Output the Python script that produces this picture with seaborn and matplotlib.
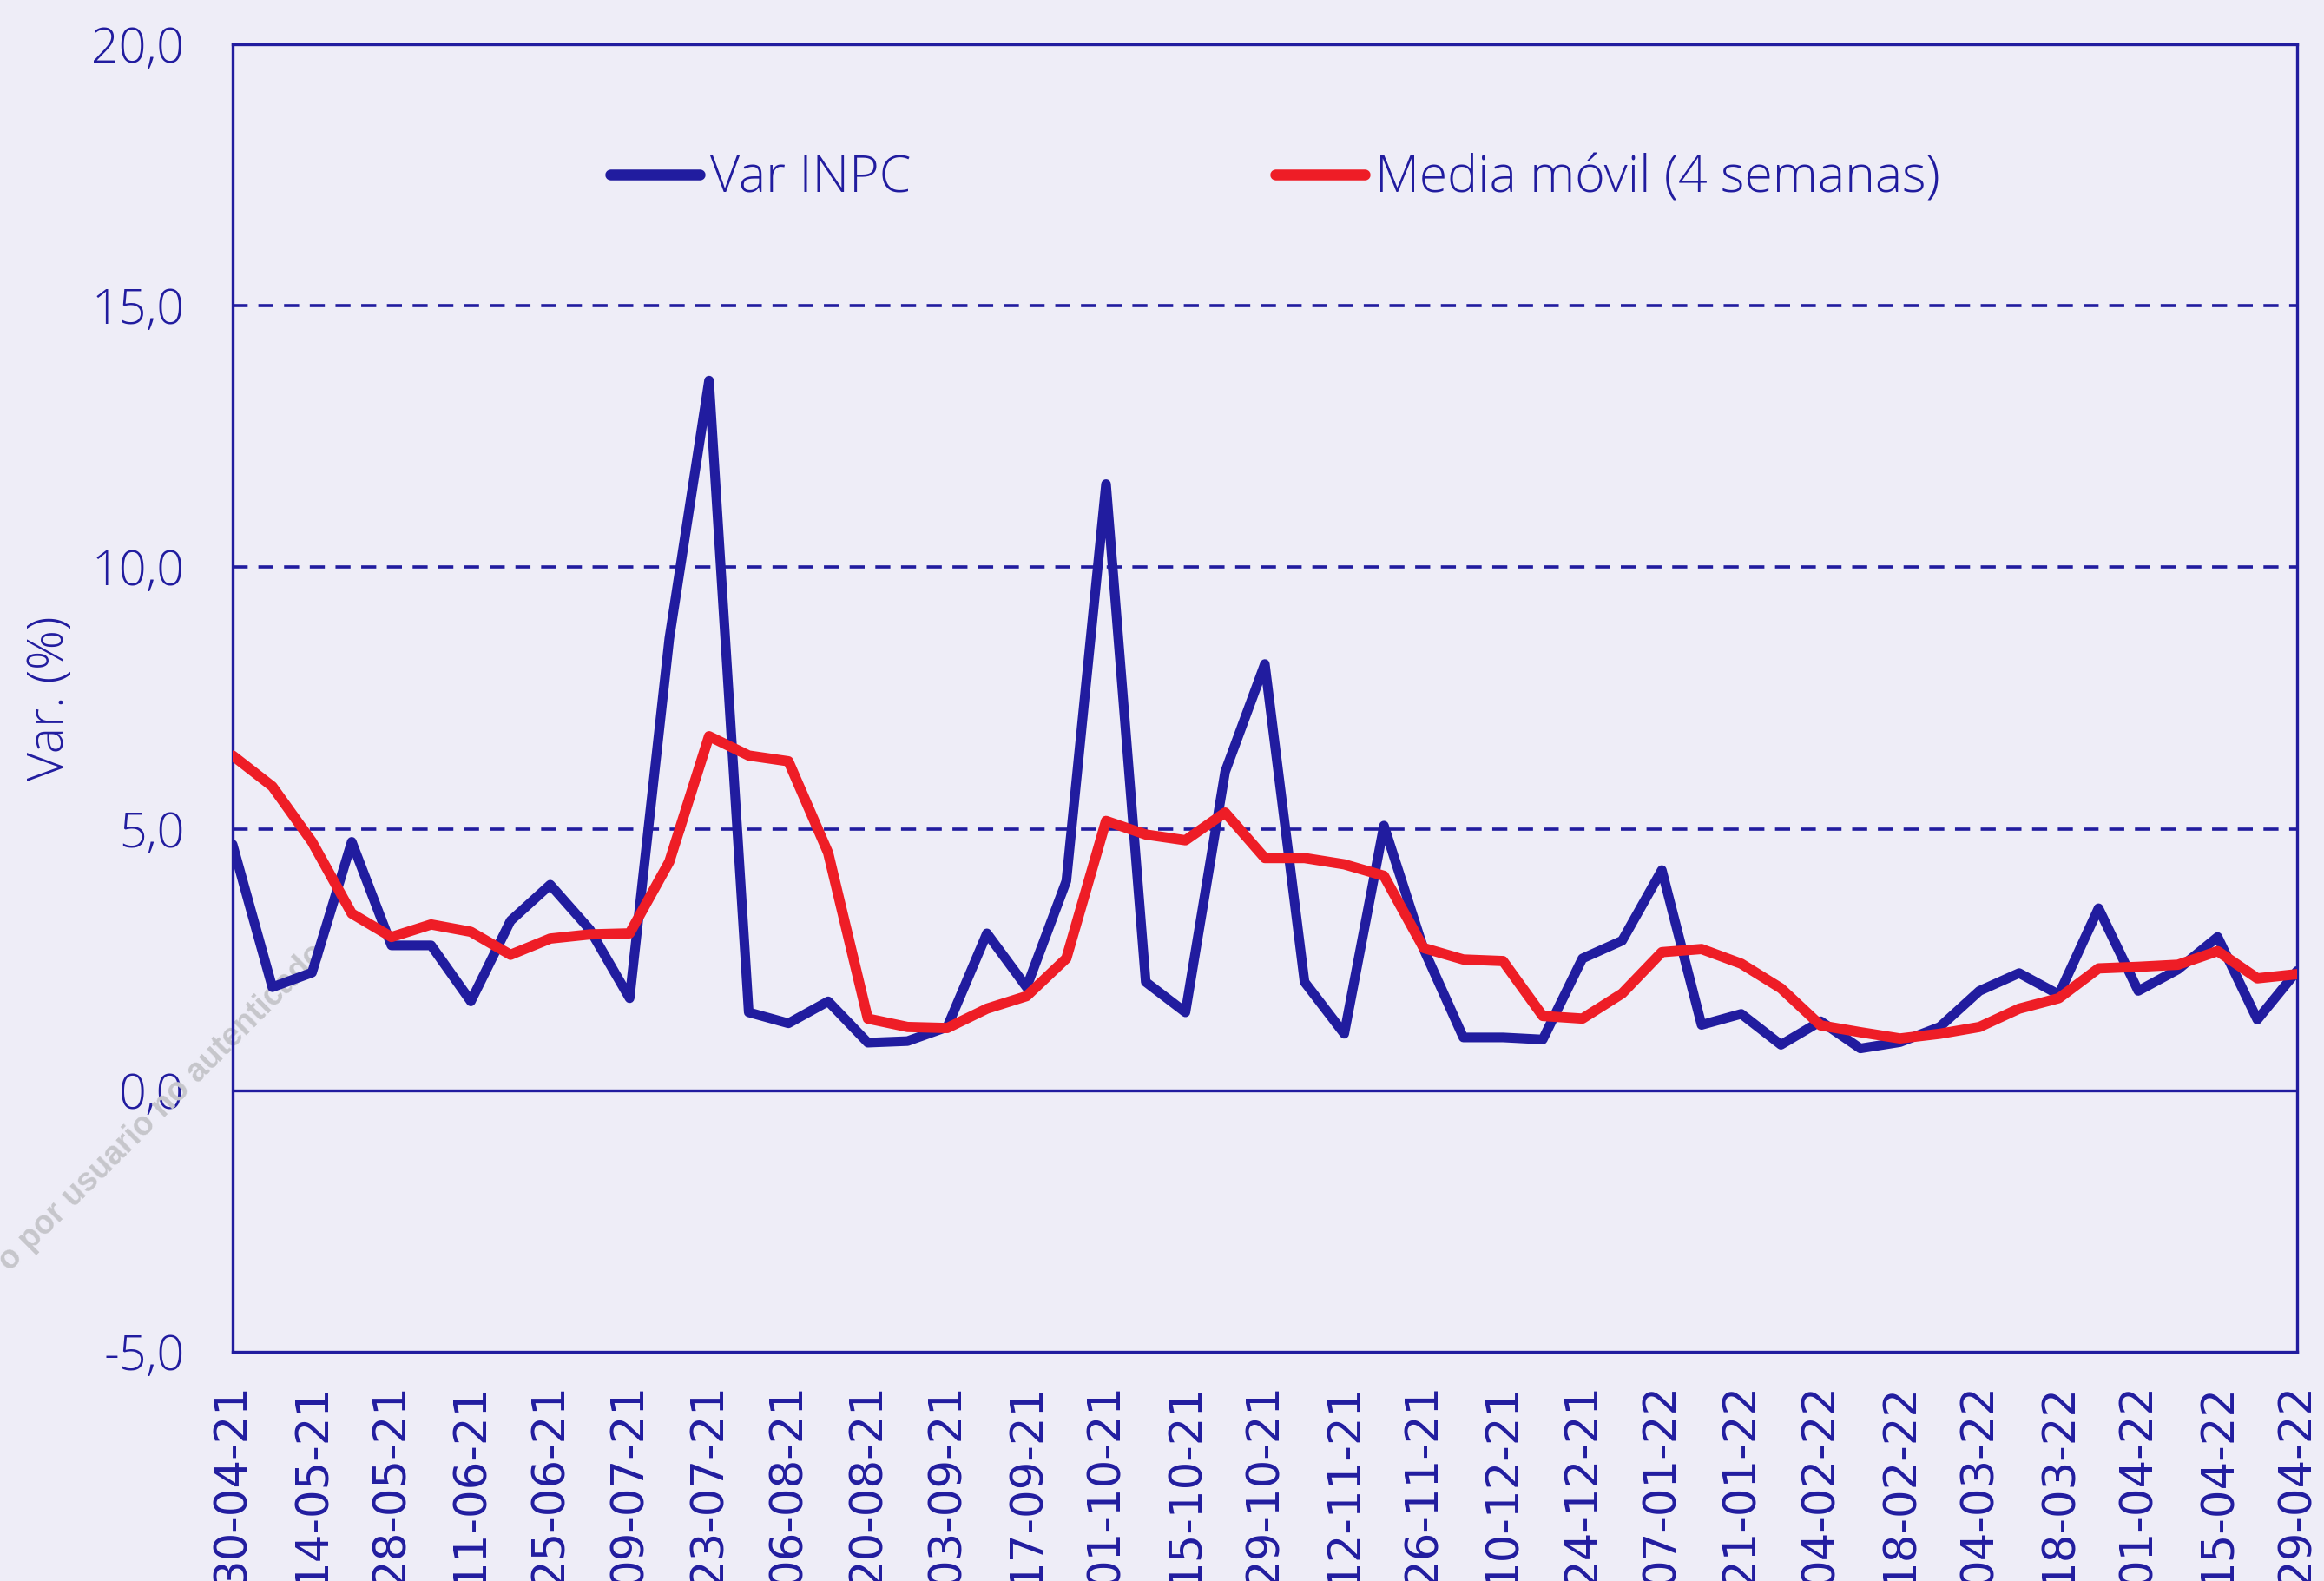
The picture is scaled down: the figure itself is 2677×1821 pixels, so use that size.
import matplotlib
matplotlib.use("Agg")
import matplotlib.pyplot as plt
import seaborn as sns
import pandas as pd
import numpy as np

# ---------------- data ----------------
dates = pd.date_range("2021-04-30", "2022-04-29", freq="7D")
var_inpc = [4.7, 1.97, 2.25, 4.75, 2.77, 2.77, 1.70, 3.24, 3.93, 3.07,
            1.76, 8.64, 13.57, 1.49, 1.28, 1.70, 0.91, 0.94, 1.21, 3.00,
            1.97, 4.00, 11.59, 2.07, 1.49, 6.09, 8.15, 2.07, 1.08, 5.06,
            2.70, 1.01, 1.01, 0.97, 2.52, 2.86, 4.21, 1.25, 1.46, 0.87,
            1.32, 0.80, 0.92, 1.21, 1.90, 2.24, 1.83, 3.48, 1.90, 2.31,
            2.93, 1.35, 2.28]
media_movil = [6.40, 5.81, 4.75, 3.38, 2.93, 3.17, 3.03, 2.59, 2.90, 2.98,
               3.00, 4.37, 6.77, 6.40, 6.29, 4.54, 1.37, 1.21, 1.19, 1.56,
               1.80, 2.52, 5.15, 4.89, 4.78, 5.31, 4.44, 4.44, 4.32, 4.10,
               2.72, 2.50, 2.47, 1.42, 1.37, 1.85, 2.64, 2.70, 2.42, 1.95,
               1.24, 1.11, 0.99, 1.08, 1.21, 1.56, 1.76, 2.33, 2.36, 2.40,
               2.66, 2.14, 2.22]
labels_series = ["Var INPC", "Media móvil (4 semanas)"]
y_ticks = [-5, 0, 5, 10, 15, 20]
y_label = "Var. (%)"
watermark = "o por usuario no autenticado"

week = np.arange(len(dates))
x_tick_pos = week[::2]
x_tick_labels = [d.strftime("%d-%m-%y") for d in dates[::2]]

df = pd.DataFrame({"semana": week, "var": var_inpc, "media": media_movil})

# ---------------- style ----------------
BG = "#EEEDF7"
BLUE = "#211C9F"
RED = "#EE1D26"
THIN = ["Open Sans", "DejaVu Sans"]

sns.set_theme(style="white")
plt.rcParams["font.family"] = ["DejaVu Sans"]

fig = plt.figure(figsize=(26.77, 18.21), dpi=100, facecolor=BG)
ax = fig.add_axes([0.1001, 0.145, 0.8883, 0.827])
ax.set_facecolor(BG)

# gridlines
for yv in [5, 10, 15]:
    ax.axhline(yv, color=BLUE, lw=2.6, linestyle=(0, (4.8, 3.4)), zorder=1)
ax.axhline(0, color=BLUE, lw=2.4, zorder=1)

sns.lineplot(data=df, x="semana", y="var", ax=ax, color=BLUE, lw=8,
             label=labels_series[0], zorder=3,
             solid_joinstyle="round", solid_capstyle="round")
sns.lineplot(data=df, x="semana", y="media", ax=ax, color=RED, lw=8.5,
             label=labels_series[1], zorder=4,
             solid_joinstyle="round", solid_capstyle="round")

ax.set_xlim(0, len(dates) - 1)
ax.set_ylim(-5, 20)
ax.set_yticks(y_ticks)
ax.set_yticklabels([f"{v:.1f}".replace(".", ",") for v in y_ticks],
                   family=THIN, fontweight="light",
                   fontsize=40, color=BLUE)
ax.set_xticks(x_tick_pos)
ax.set_xticklabels(x_tick_labels, rotation=90, fontsize=37, color=BLUE)
ax.tick_params(axis="y", length=0, pad=40)
ax.tick_params(axis="x", length=0, pad=26)
ax.set_xlabel("")
ax.set_ylabel(y_label, fontsize=41, color=BLUE,
              family=THIN, fontweight="light")
ax.yaxis.set_label_coords(-0.076, 0.5)

for s in ax.spines.values():
    s.set_visible(True)
    s.set_color(BLUE)
    s.set_linewidth(2.4)

leg = ax.legend(loc="center", bbox_to_anchor=(0.505, 0.897), ncol=2,
                frameon=False, handlelength=1.75, handletextpad=0.2,
                columnspacing=7.1,
                prop={"family": THIN, "size": 42.5, "weight": "light"})
for t in leg.get_texts():
    t.set_color(BLUE)
for h in leg.get_lines():
    h.set_linewidth(9)
    h.set_solid_capstyle("round")

ax.text(0.141, 0.396, watermark, transform=fig.transFigure, rotation=45,
        rotation_mode="anchor", ha="right", va="baseline", fontsize=27,
        color="#C6C6CB", fontweight="bold", family=["Liberation Sans", "DejaVu Sans"],
        clip_on=False, zorder=1.5)

fig.savefig("out.png", dpi=100, facecolor=BG)
